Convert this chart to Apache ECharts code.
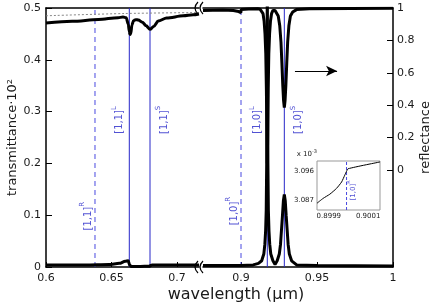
<!DOCTYPE html>
<html>
<head>
<meta charset="utf-8">
<script src="https://cdn.jsdelivr.net/npm/echarts@6/dist/echarts.min.js"></script>
<style>
html, body { margin: 0; padding: 0; background: #fff; }
#chart { width: 436px; height: 305px; }
</style>
</head>
<body>
<div id="chart"></div>
<script>
// left panel, 0.6 - 0.72 um
var wlLeft = [0.6, 0.62, 0.64, 0.655, 0.6588, 0.6612, 0.6628, 0.6636, 0.6641, 0.6647, 0.6656, 0.6668, 0.6685, 0.6705, 0.6735, 0.6765, 0.6794, 0.6822, 0.6857, 0.6921, 0.7048, 0.7124, 0.7168];
var reflLeft = [0.907, 0.918, 0.929, 0.940, 0.944, 0.94, 0.9, 0.855, 0.836, 0.842, 0.895, 0.922, 0.928, 0.926, 0.912, 0.89, 0.868, 0.886, 0.92, 0.938, 0.952, 0.958, 0.963];
var wlDotLeft = [0.6, 0.66, 0.7168];
var dotLeft = [0.952, 0.966, 0.972];
var wlTransLeft = [0.6, 0.63, 0.648, 0.656, 0.6605, 0.6628, 0.6638, 0.6652, 0.672, 0.6785, 0.681, 0.69, 0.7168];
var transLeft = [0.004, 0.004, 0.005, 0.007, 0.011, 0.012, 0.004, 0.0012, 0.001, 0.0015, 0.004, 0.004, 0.004];

// right panel, 0.875 - 1 um
var wlRight = [0.875, 0.888, 0.895, 0.8985, 0.8999, 0.9001, 0.905, 0.911, 0.9125, 0.9136, 0.9145, 0.9152, 0.9158, 0.9163, 0.9167, 0.917, 0.9173, 0.9176, 0.9179, 0.9183, 0.9188, 0.9194, 0.9201, 0.921, 0.9224,
    0.9235, 0.9245, 0.9255, 0.9263, 0.9269, 0.9275, 0.928, 0.9285, 0.929, 0.9295, 0.9301, 0.9307, 0.9315, 0.9325, 0.934, 0.9365, 0.945, 1.0];
var reflRight = [0.985, 0.987, 0.985, 0.978, 0.972, 0.99, 0.994, 0.995, 0.993, 0.985, 0.965, 0.92, 0.84, 0.72, 0.5, 0.25, 0.04, 0.25, 0.5, 0.72, 0.84, 0.92, 0.965, 0.985, 0.985,
    0.975, 0.95, 0.89, 0.79, 0.66, 0.52, 0.43, 0.385, 0.43, 0.52, 0.66, 0.79, 0.89, 0.95, 0.975, 0.99, 0.995, 0.998];
var wlTransRight = [0.875, 0.9, 0.908, 0.9115, 0.9136, 0.915, 0.9157, 0.9162, 0.9166, 0.9169, 0.9171, 0.9173, 0.9175, 0.9177, 0.918, 0.9184, 0.9189, 0.9196, 0.921, 0.9224,
    0.9238, 0.9252, 0.926, 0.9266, 0.9273, 0.9279, 0.9285, 0.9291, 0.9297, 0.9304, 0.931, 0.9318, 0.9333, 0.9366, 0.95, 1.0];
var transRight = [0.003, 0.003, 0.004, 0.007, 0.012, 0.025, 0.044, 0.07, 0.11, 0.2, 0.35, 0.56, 0.35, 0.2, 0.11, 0.07, 0.044, 0.025, 0.012, 0.005,
    0.012, 0.025, 0.044, 0.07, 0.1, 0.128, 0.14, 0.128, 0.1, 0.07, 0.044, 0.025, 0.012, 0.004, 0.003, 0.002];

// diffraction modes R (dashed), L and S (solid)
var modeTags = ['R', 'L', 'S'];
var modeLeft = [0.6374, 0.6636, 0.6794];
var modeRight = [0.9, 0.9173, 0.9285];

// inset around [1,0]R
var wlInset = [0.89984, 0.899871, 0.899905, 0.899939, 0.899965, 0.899981, 0.89999, 0.899998, 0.90016];
var inset = [3.0861, 3.0876, 3.0889, 3.0907, 3.0927, 3.0948, 3.0960, 3.0968, 3.0989];
var insetMode = 0.89999;

// ticks
var xTicksLeft = [0.6, 0.65, 0.7];
var xTicksRight = [0.9, 0.95, 1];
var yTicksRight = [0, 0.2, 0.4, 0.6, 0.8, 1];
var xTicksInset = [0.8999, 0.9001];
var yTicksInset = [3.087, 3.096];

var FONT = 'DejaVu Sans';
var BLUE = '#2626c8';
var BLUE_DASH = '#4848e0';

function pts(xs, ys) {
    return xs.map(function (x, i) { return [x, ys[i]]; });
}

var frame = { onZero: false, lineStyle: { color: '#000', width: 1.5 } };
var lab = { fontFamily: FONT, fontSize: 11, color: '#1a1a1a' };

function bottomAxis(grid, min, max, ticks) {
    return {
        gridIndex: grid, type: 'value', position: 'bottom', min: min, max: max,
        axisLine: frame,
        axisTick: { inside: true, length: 5, customValues: ticks, lineStyle: { color: '#000' } },
        axisLabel: Object.assign({ customValues: ticks, margin: 6 }, lab),
        splitLine: { show: false }
    };
}
function topAxis(grid, min, max) {
    return {
        gridIndex: grid, type: 'value', position: 'top', min: min, max: max,
        axisLine: frame, axisTick: { show: false }, axisLabel: { show: false }, splitLine: { show: false }
    };
}
function hiddenY(grid, min, max) {
    return { gridIndex: grid, type: 'value', min: min, max: max, show: false, splitLine: { show: false } };
}

var line = { type: 'line', showSymbol: false, silent: true };
var thick = { color: '#000', width: 3 };

// one full-height vertical line per mode, drawn on the transmittance axis
function modeLines(list, xi, yi, lo, hi) {
    return list.map(function (v, i) {
        return Object.assign({}, line, {
            xAxisIndex: xi, yAxisIndex: yi, z: 1,
            data: [[v, lo], [v, hi]],
            lineStyle: modeTags[i] === 'R'
                ? { color: BLUE_DASH, width: 1, type: [5, 4] }
                : { color: BLUE, width: 1, type: 'solid' }
        });
    });
}

// label anchors: height on the transmittance axis, sideways shift in px
var tagLevel = { R: 0.098, L: 0.284, S: 0.284 };
var tagShift = { R: -9, L: -12, S: 12 };
var tagRich = {
    b: { fontFamily: FONT, fontSize: 10, color: BLUE, lineHeight: 14, verticalAlign: 'bottom' },
    s: { fontFamily: FONT, fontSize: 7, color: BLUE, lineHeight: 14, verticalAlign: 'top' }
};
function modeLabels(list, order, rLevel) {
    return list.map(function (v, i) {
        var t = modeTags[i];
        return {
            value: [v, t === 'R' ? rLevel : tagLevel[t]],
            label: { formatter: '{b|' + order + '}{s|' + t + '}', offset: [0, tagShift[t]] }
        };
    });
}

var series = [].concat(
    modeLines(modeLeft, 0, 0, 0, 0.5),
    modeLines(modeRight, 2, 2, 0, 0.5),
    [
        Object.assign({}, line, { xAxisIndex: 0, yAxisIndex: 1, smooth: 0.3, data: pts(wlDotLeft, dotLeft),
            lineStyle: { color: '#888', width: 1, type: [2, 2] } }),
        Object.assign({}, line, { xAxisIndex: 0, yAxisIndex: 1, smooth: 0.3, smoothMonotone: 'x', z: 3,
            data: pts(wlLeft, reflLeft), lineStyle: thick }),
        Object.assign({}, line, { xAxisIndex: 0, yAxisIndex: 0, smooth: 0.3, smoothMonotone: 'x', z: 3,
            data: pts(wlTransLeft, transLeft), lineStyle: thick }),
        Object.assign({}, line, { xAxisIndex: 2, yAxisIndex: 3, z: 3, data: pts(wlRight, reflRight), lineStyle: thick,
            markLine: {
                silent: true, symbol: ['none', 'arrow'], symbolSize: [8, 11], label: { show: false },
                lineStyle: { color: '#000', width: 1.2, type: 'solid' },
                data: [[{ coord: [0.9355, 0.611] }, { coord: [0.9632, 0.611] }]]
            } }),
        Object.assign({}, line, { xAxisIndex: 2, yAxisIndex: 2, z: 3, data: pts(wlTransRight, transRight), lineStyle: thick }),
        {
            type: 'scatter', xAxisIndex: 0, yAxisIndex: 0, symbolSize: 0, silent: true,
            label: { show: true, position: 'inside', rotate: 90, rich: tagRich },
            data: modeLabels(modeLeft, '[1,1]', 0.098)
        },
        {
            type: 'scatter', xAxisIndex: 2, yAxisIndex: 2, symbolSize: 0, silent: true,
            label: { show: true, position: 'inside', rotate: 90, rich: tagRich },
            data: modeLabels(modeRight, '[1,0]', 0.108)
        },
        Object.assign({}, line, { xAxisIndex: 4, yAxisIndex: 4, z: 6,
            data: [[insetMode, 3.084], [insetMode, 3.0992]],
            lineStyle: { color: BLUE_DASH, width: 1, type: [3, 2] } }),
        Object.assign({}, line, { xAxisIndex: 4, yAxisIndex: 4, z: 7, smooth: 0.2, data: pts(wlInset, inset),
            lineStyle: { color: '#000', width: 1 } }),
        {
            type: 'scatter', xAxisIndex: 4, yAxisIndex: 4, symbolSize: 0, silent: true, z: 7,
            label: { show: true, position: 'inside', rotate: 90, offset: [0, 5],
                formatter: '{b|[1,0]}{s|R}',
                rich: {
                    b: { fontFamily: FONT, fontSize: 7, color: BLUE, lineHeight: 10, verticalAlign: 'bottom' },
                    s: { fontFamily: FONT, fontSize: 5, color: BLUE, lineHeight: 10, verticalAlign: 'top' }
                } },
            data: [[insetMode, 3.0901]]
        }
    ]
);

var chart = echarts.init(document.getElementById('chart'));
chart.setOption({
    animation: false,
    backgroundColor: '#fff',
    grid: [
        { left: 46, top: 8, width: 153, height: 259 },
        { left: 203, top: 8, width: 190, height: 259 },
        { left: 317, top: 161, width: 63, height: 49, show: true, borderColor: '#999', borderWidth: 1, backgroundColor: '#fff', z: 5 }
    ],
    xAxis: [
        bottomAxis(0, 0.6, 0.7168, xTicksLeft),
        topAxis(0, 0.6, 0.7168),
        bottomAxis(1, 0.875, 1.0, xTicksRight),
        topAxis(1, 0.875, 1.0),
        {
            gridIndex: 2, type: 'value', min: 0.89984, max: 0.90016, z: 5,
            axisLine: { show: false }, axisTick: { show: false }, splitLine: { show: false },
            axisLabel: { customValues: xTicksInset, margin: 3, fontFamily: FONT, fontSize: 7, color: '#1a1a1a',
                formatter: function (v) { return v.toFixed(4); } }
        }
    ],
    yAxis: [
        {
            gridIndex: 0, type: 'value', min: 0, max: 0.5, interval: 0.1,
            axisLine: frame,
            axisTick: { inside: true, length: 6, lineStyle: { color: '#000' } },
            axisLabel: Object.assign({ margin: 5 }, lab),
            splitLine: { show: false },
            name: 'transmittance·10²', nameLocation: 'middle', nameRotate: 90, nameGap: 27,
            nameTextStyle: { fontFamily: FONT, fontSize: 13, color: '#1a1a1a' }
        },
        hiddenY(0, -0.6, 1),
        hiddenY(1, 0, 0.5),
        {
            gridIndex: 1, type: 'value', position: 'right', min: -0.6, max: 1,
            axisLine: frame,
            axisTick: { inside: true, length: 6, customValues: yTicksRight, lineStyle: { color: '#000' } },
            axisLabel: Object.assign({ customValues: yTicksRight, margin: 4 }, lab),
            splitLine: { show: false },
            name: 'reflectance', nameLocation: 'middle', nameRotate: 90, nameGap: 26,
            nameTextStyle: { fontFamily: FONT, fontSize: 13, color: '#1a1a1a' }
        },
        {
            gridIndex: 2, type: 'value', min: 3.084, max: 3.0992, z: 5,
            axisLine: { show: false }, axisTick: { show: false }, splitLine: { show: false },
            axisLabel: { customValues: yTicksInset, margin: 3, fontFamily: FONT, fontSize: 7, color: '#1a1a1a',
                formatter: function (v) { return v.toFixed(3); } },
            name: 'x 10{s|-3}', nameLocation: 'end', nameGap: 2,
            nameTextStyle: { fontFamily: FONT, fontSize: 7, color: '#1a1a1a', align: 'right', lineHeight: 10,
                rich: { s: { fontFamily: FONT, fontSize: 5, verticalAlign: 'top', lineHeight: 10 } } }
        }
    ],
    series: series,
    graphic: [
        { type: 'bezierCurve', shape: { x1: 198, y1: 2, x2: 198, y2: 14, cpx1: 192, cpy1: 8 }, style: { stroke: '#000', lineWidth: 1.2, fill: null } },
        { type: 'bezierCurve', shape: { x1: 203, y1: 2, x2: 203, y2: 14, cpx1: 197, cpy1: 8 }, style: { stroke: '#000', lineWidth: 1.2, fill: null } },
        { type: 'bezierCurve', shape: { x1: 198, y1: 261, x2: 198, y2: 273, cpx1: 192, cpy1: 267 }, style: { stroke: '#000', lineWidth: 1.2, fill: null } },
        { type: 'bezierCurve', shape: { x1: 203, y1: 261, x2: 203, y2: 273, cpx1: 197, cpy1: 267 }, style: { stroke: '#000', lineWidth: 1.2, fill: null } },
        { type: 'text', x: 236, y: 295, style: { text: 'wavelength (µm)', font: '16px "DejaVu Sans"', fill: '#1a1a1a', textAlign: 'center', textVerticalAlign: 'middle' } }
    ]
});
</script>
</body>
</html>
